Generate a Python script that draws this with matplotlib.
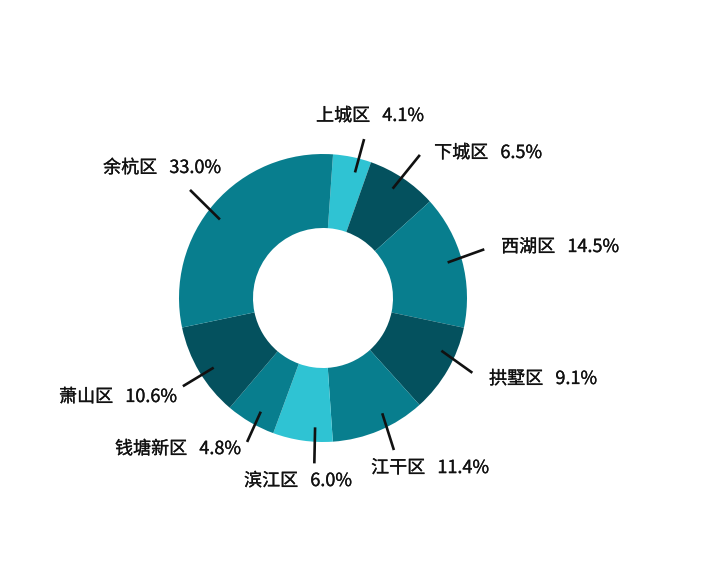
import numpy as np
import matplotlib
matplotlib.use("Agg")
import matplotlib.pyplot as plt
import matplotlib.patheffects as pe

plt.rcParams['font.family'] = ['Noto Sans CJK SC', 'DejaVu Sans']

# districts in drawing order (clockwise from the top)
districts = ['上城区', '下城区', '西湖区', '拱墅区', '江干区', '滨江区', '钱塘新区', '萧山区', '余杭区']
# share shown in each label
label_pct = [4.1, 6.5, 14.5, 9.1, 11.4, 6.0, 4.8, 10.6, 33.0]
# wedge sizes as drawn in the picture
sizes = [4.3, 7.9, 15.0, 10.0, 10.6, 6.7, 5.6, 10.5, 29.4]

light, dark, teal = '#2fc3d3', '#04515e', '#087e8e'
colors = [light, dark, teal, dark, teal, light, teal, dark, teal]

# leader lines: start clock angle (at r=0.9), end (clock angle, radius); label centres (x, y); pie radius = 1
line_start = [14.3, 32.5, 74.1, 114, 152.8, 183.5, 208.7, 237.5, 307.3]
line_end = [(14.5, 1.14), (34.1, 1.2), (73.2, 1.17), (116.6, 1.16), (155, 1.165),
            (183, 1.15), (207.8, 1.13), (237.8, 1.15), (309.1, 1.19)]
label_xy = [(0.326, 1.264), (1.146, 1.007), (1.646, 0.354), (1.528, -0.5625), (0.743, -1.181),
            (-0.174, -1.271), (-1.007, -1.049), (-1.424, -0.6875), (-1.118, 0.903)]

W, H = 720, 574
cx, cy, R = 323, 276, 144   # pie centre (pixels from left / bottom) and radius

fig = plt.figure(figsize=(W / 100, H / 100), dpi=100)
ax = fig.add_axes([0, 0, 1, 1])

wedges, _ = ax.pie(sizes, colors=colors, startangle=86, counterclock=False, radius=1,
                   wedgeprops=dict(width=1 - 70 / 144, linewidth=0))
ax.set_xlim(-cx / R, (W - cx) / R)
ax.set_ylim(-cy / R, (H - cy) / R)
ax.set_aspect('equal')
ax.axis('off')


def clock_xy(angle, r):
    a = np.deg2rad(90 - angle)
    return r * np.cos(a), r * np.sin(a)


for name, p, sa, (ea, er), (lx, ly) in zip(districts, label_pct, line_start, line_end, label_xy):
    x0, y0 = clock_xy(sa, 0.9)
    x1, y1 = clock_xy(ea, er)
    ax.plot([x0, x1], [y0, y1], color='#111111', lw=1.9, solid_capstyle='butt')
    t = ax.text(lx, ly, f'{name}   {p:.1f}%', ha='center', va='center',
                fontsize=13, color='#111111')
    t.set_path_effects([pe.withStroke(linewidth=0.2, foreground='#111111')])

fig.savefig('out.png', dpi=100, facecolor='white')
